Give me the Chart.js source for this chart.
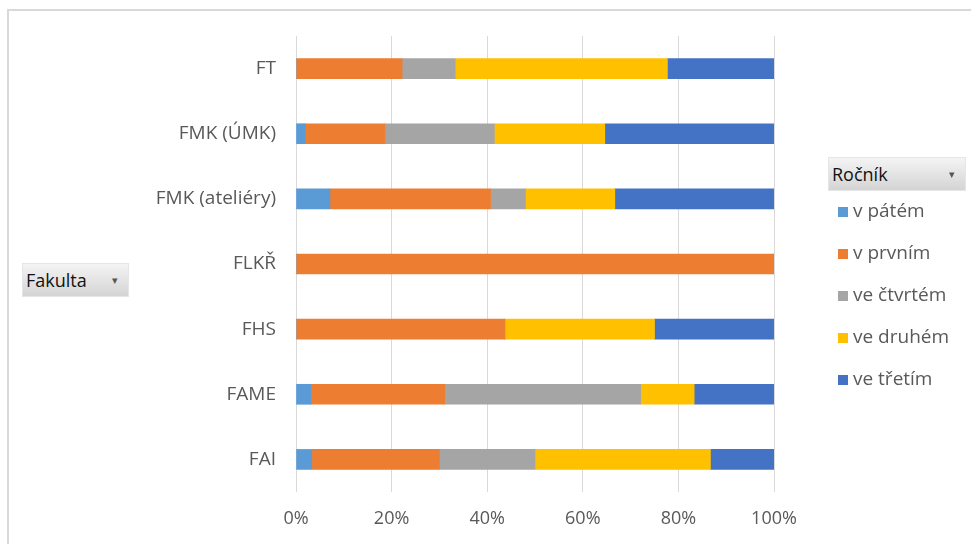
<!DOCTYPE html>
<html>
<head>
<meta charset="utf-8">
<script src="https://cdn.jsdelivr.net/npm/chart.js@4.4.1/dist/chart.umd.min.js"></script>
<style>
  html, body { margin: 0; padding: 0; background: #fff; }
  #wrap { position: relative; width: 971px; height: 544px; overflow: hidden; font-family: 'Open Sans', sans-serif; }
  #frame { position: absolute; left: 7px; top: 9px; width: 980px; height: 560px; border-left: 2px solid #d9d9d9; border-top: 2px solid #d9d9d9; }
  canvas { position: absolute; left: 0; top: 0; }
  .btn { position: absolute; box-sizing: border-box; background: linear-gradient(#f4f4f4, #d4d4d4); border: 1px solid #e6e6e6; color: #111; font-size: 18px; padding-left: 3px; line-height: 32px; }
  .btn span { position: absolute; right: 10px; top: 0; font-size: 11px; color: #555; }
  #legend { position: absolute; left: 836px; top: 197px; }
  .item { height: 42px; display: flex; align-items: flex-start; font-size: 19px; color: #595959; }
  .sw { width: 10px; height: 10px; margin: 10px 5px 0 2px; }
</style>
</head>
<body>
<div id="wrap">
  <div id="frame"></div>
  <canvas id="c" width="971" height="544"></canvas>
  <div class="btn" style="left:22px;top:263px;width:107px;height:34px;">Fakulta<span>▾</span></div>
  <div class="btn" style="left:828px;top:157px;width:138px;height:34px;">Ročník<span>▾</span></div>
  <div id="legend"></div>
</div>
<script>
const fakulty = ['FT', 'FMK (ÚMK)', 'FMK (ateliéry)', 'FLKŘ', 'FHS', 'FAME', 'FAI'];
const rocniky = ['v pátém', 'v prvním', 've čtvrtém', 've druhém', 've třetím'];
const barvy = ['#5b9bd5', '#ed7d31', '#a5a5a5', '#ffc000', '#4472c4'];
const vPatem   = [0,    2.0,  7.1,  0,   0,    3.1,  3.3];
const vPrvnim  = [22.2, 16.6, 33.6, 100, 43.7, 28.0, 26.7];
const veCtvrtem= [11.1, 22.9, 7.3,  0,   0,    41.0, 20.0];
const veDruhem = [44.4, 23.1, 18.7, 0,   31.3, 11.2, 36.7];
const veTretim = [22.3, 35.4, 33.3, 0,   25.0, 16.7, 13.3];
const osaTicks = ['0%', '20%', '40%', '60%', '80%', '100%'];

const series = [vPatem, vPrvnim, veCtvrtem, veDruhem, veTretim];

const datasets = series.map((d, i) => ({
  label: rocniky[i],
  data: d,
  backgroundColor: barvy[i],
  borderWidth: 0,
  barThickness: 20
}));

new Chart(document.getElementById('c'), {
  type: 'bar',
  data: { labels: fakulty, datasets: datasets },
  options: {
    indexAxis: 'y',
    responsive: false,
    animation: false,
    layout: { padding: { left: 0, right: 197, top: 36, bottom: 0 } },
    plugins: { legend: { display: false }, tooltip: { enabled: false } },
    scales: {
      x: {
        stacked: true,
        min: 0, max: 100,
        ticks: {
          stepSize: 20,
          padding: 16,
          color: '#595959',
          font: { family: 'Open Sans', size: 18 },
          callback: (v, i) => osaTicks[i]
        },
        grid: { color: '#d9d9d9', lineWidth: 1, drawTicks: false },
        border: { display: false },
        afterFit: s => { s.height = 52; }
      },
      y: {
        stacked: true,
        ticks: {
          padding: 20,
          color: '#595959',
          font: { family: 'Open Sans', size: 19 }
        },
        grid: { display: false, drawTicks: false },
        border: { display: false },
        afterFit: s => { s.width = 296; }
      }
    }
  }
});

const lg = document.getElementById('legend');
rocniky.forEach((r, i) => {
  const it = document.createElement('div');
  it.className = 'item';
  it.innerHTML = '<div class="sw" style="background:' + barvy[i] + '"></div><div>' + r + '</div>';
  lg.appendChild(it);
});
</script>
</body>
</html>
